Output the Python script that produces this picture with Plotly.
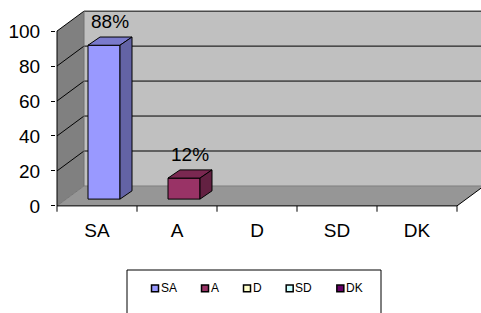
import plotly.graph_objects as go

# ---- data ----
categories = ["SA", "A", "D", "SD", "DK"]
values = [88, 12, 0, 0, 0]
value_labels = ["88%", "12%", "", "", ""]
colors = ["#9999FF", "#993366", "#FFFFCC", "#CCFFFF", "#660066"]
y_ticks = [0, 20, 40, 60, 80, 100]

W, H = 481, 313
FONT = "Liberation Sans, Arial, sans-serif"
FS = 19

# main axes geometry (pixels)
PX_L, PX_R, PX_T, PX_B = 56, 481, 10, 214
XR = [-0.5125, 4.8]
YR = [-1.111, 112.22]
XD = [PX_L / W, PX_R / W]
YD = [(H - PX_B) / H, (H - PX_T) / H]

def px(xv):
    return XD[0] + (xv - XR[0]) / (XR[1] - XR[0]) * (XD[1] - XD[0])

def py(yv):
    return YD[0] + (yv - YR[0]) / (YR[1] - YR[0]) * (YD[1] - YD[0])

# 3-D box geometry (data units)
X_L, X_R = -0.5, len(categories) - 0.5
DX, DY = 0.3375, 11.4          # wall depth
BX, BW, B0 = 0.0875, 0.4, 3.9  # bar offset, width, base
DDX, DDY = 0.15, 4.7           # bar depth

def shade(hexc, f):
    h = hexc.lstrip("#")
    r, g, b = (int(h[i:i + 2], 16) for i in (0, 2, 4))
    return "#%02x%02x%02x" % (int(r * f), int(g * f), int(b * f))

shapes = []

def poly(pts, fill, line="rgba(0,0,0,0)", lw=0):
    d = "M " + " L ".join(f"{px(a)},{py(b)}" for a, b in pts) + " Z"
    shapes.append(dict(type="path", path=d, xref="paper", yref="paper",
                       fillcolor=fill, line=dict(color=line, width=lw), layer="below"))

def seg(a, b, color="black", lw=1):
    shapes.append(dict(type="line", xref="paper", yref="paper",
                       x0=px(a[0]), y0=py(a[1]), x1=px(b[0]), y1=py(b[1]),
                       line=dict(color=color, width=lw), layer="below"))

top = y_ticks[-1]
# walls
poly([(X_L, 0), (X_L + DX, DY), (X_L + DX, top + DY), (X_L, top)], "#808080")
poly([(X_L + DX, DY), (XR[1] + 1, DY), (XR[1] + 1, top + DY), (X_L + DX, top + DY)], "#C0C0C0")
poly([(X_L, 0), (X_R, 0), (X_R + DX, DY), (X_L + DX, DY)], "#969696")
# gridlines
for v in y_ticks:
    c = "#777777" if v == 0 else "black"
    seg((X_L, v), (X_L + DX, v + DY), c)
    seg((X_L + DX, v + DY), (XR[1] + 1, v + DY), c if v else "#808080")
seg((X_L + DX, DY), (X_L + DX, top + DY), "#707070")
# axes lines
seg((X_L, 0), (X_L, top))
seg((X_L, 0), (X_R, 0))
seg((X_R, 0), (X_R + DX, DY))
# category boundary ticks
for k in range(len(categories) + 1):
    xb = X_L + k
    shapes.append(dict(type="line", xref="paper", yref="paper",
                       x0=px(xb), x1=px(xb), y0=py(0), y1=py(0) - 6 / H,
                       line=dict(color="black", width=1), layer="below"))

fig = go.Figure()

# front faces
bx = [i + BX for i in range(len(categories))]
fig.add_trace(go.Bar(
    x=bx, y=[v if v else None for v in values], base=B0, width=BW,
    marker=dict(color=colors, line=dict(color="black", width=1)),
    showlegend=False, hoverinfo="skip"))

# top and side faces computed from values
for i, v in enumerate(values):
    if not v:
        continue
    xl, xr = bx[i] - BW / 2, bx[i] + BW / 2
    t = B0 + v
    fig.add_trace(go.Scatter(
        x=[xl, xr, xr + DDX, xl + DDX, xl], y=[t, t, t + DDY, t + DDY, t],
        fill="toself", fillcolor=shade(colors[i], 0.8), mode="lines",
        line=dict(color="black", width=1), showlegend=False, hoverinfo="skip"))
    fig.add_trace(go.Scatter(
        x=[xr, xr + DDX, xr + DDX, xr, xr], y=[B0, B0 + DDY, t + DDY, t, B0],
        fill="toself", fillcolor=shade(colors[i], 0.65), mode="lines",
        line=dict(color="black", width=1), showlegend=False, hoverinfo="skip"))

annotations = []
for i, v in enumerate(values):
    if value_labels[i]:
        annotations.append(dict(x=bx[i] + DDX / 2, y=B0 + v, xref="x", yref="y",
                                text=value_labels[i], showarrow=False, yanchor="bottom",
                                yshift=11, font=dict(size=FS, color="black", family=FONT)))

# legend (drawn manually to match compact spacing)
AW = {"S": 0.667, "A": 0.667, "D": 0.722, "K": 0.667}
LEG_FS = 12
shapes.append(dict(type="rect", xref="paper", yref="paper",
                   x0=127 / W, x1=381 / W, y0=1 - 278 / H, y1=-0.1,
                   line=dict(color="black", width=1), fillcolor="white", layer="below"))
cx = 155
for lab, col in zip(categories, colors):
    cy = 297
    shapes.append(dict(type="rect", xref="paper", yref="paper",
                       x0=(cx - 3.5) / W, x1=(cx + 3.5) / W,
                       y0=1 - (cy + 3.5) / H, y1=1 - (cy - 3.5) / H,
                       fillcolor=col, line=dict(color="black", width=1.5)))
    annotations.append(dict(x=(cx + 3.5) / W, y=1 - cy / H, xref="paper", yref="paper",
                            text=lab, showarrow=False, xanchor="left", yanchor="middle",
                            font=dict(size=LEG_FS, color="black", family=FONT)))
    tw = sum(AW.get(ch, 0.65) for ch in lab) * LEG_FS
    cx += 34 + tw

fig.update_layout(
    width=W, height=H, margin=dict(l=0, r=0, t=0, b=0),
    paper_bgcolor="white", plot_bgcolor="rgba(0,0,0,0)",
    shapes=shapes, annotations=annotations, showlegend=False,
    xaxis=dict(domain=XD, range=XR, tickvals=list(range(len(categories))),
               ticktext=categories, ticks="", showgrid=False, zeroline=False,
               showline=False, ticklabelstandoff=9,
               tickfont=dict(size=FS, color="black", family=FONT)),
    yaxis=dict(domain=YD, range=YR, tickvals=y_ticks, ticks="outside", ticklen=4,
               tickcolor="black", showgrid=False, zeroline=False, showline=False,
               ticklabelstandoff=7,
               tickfont=dict(size=FS, color="black", family=FONT)),
)

fig.write_html("out.html", config={"displayModeBar": False},
               post_script="document.body.style.margin='0';document.body.style.overflow='hidden';")
